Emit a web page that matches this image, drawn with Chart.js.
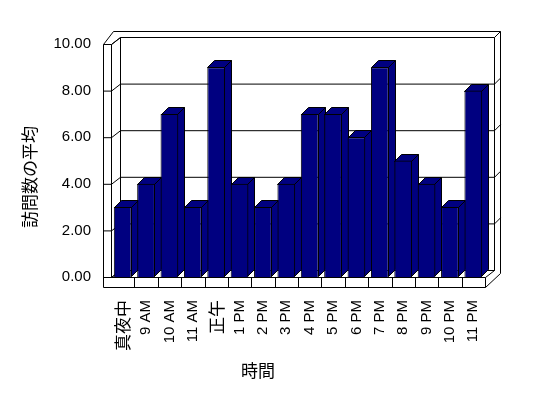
<!DOCTYPE html>
<html>
<head>
<meta charset="utf-8">
<script src="https://cdn.jsdelivr.net/npm/chart.js@4"></script>
<style>
  body { margin: 0; background: #fff; }
</style>
</head>
<body>
<canvas id="visitsChart" width="548" height="398"></canvas>
<script>
// 時間帯別の訪問数 (3D column look)
const categories = ['真夜中', '9 AM', '10 AM', '11 AM', '正午', '1 PM', '2 PM', '3 PM',
    '4 PM', '5 PM', '6 PM', '7 PM', '8 PM', '9 PM', '10 PM', '11 PM'];
const visits = [3, 4, 7, 3, 9, 4, 3, 4, 7, 7, 6, 9, 5, 4, 3, 8];
const yTicks = [0, 2, 4, 6, 8, 10];

const navy = '#000080';
const latin = '"Liberation Sans", Arial, sans-serif';
const cjk = '"Noto Sans CJK JP", sans-serif';

// walls, floor, gridlines and bar tops/sides
const box3d = {
    id: 'box3d',
    beforeDatasetsDraw(chart) {
        const { ctx, chartArea: a, scales: { x, y } } = chart;
        const dx = 9, dy = -7;      // depth of walls
        const wt = 8, ft = 10, bt = 6; // wall / floor / back slab thickness
        const L = a.left, R = a.right;
        const T = y.getPixelForValue(yTicks[yTicks.length - 1]);
        const B = y.getPixelForValue(0);
        const BL = L + dx, BR = R + dx, BT = T + dy, BB = B + dy;
        const line = (pts) => {
            ctx.beginPath();
            pts.forEach((p, i) => i ? ctx.lineTo(p[0], p[1]) : ctx.moveTo(p[0], p[1]));
            ctx.stroke();
        };

        ctx.save();
        ctx.translate(0.5, 0.5);
        ctx.lineWidth = 1;
        ctx.strokeStyle = '#000';
        ctx.fillStyle = '#fff';

        // outer outline
        ctx.beginPath();
        ctx.moveTo(L - wt, B + ft);
        ctx.lineTo(L - wt, T);
        ctx.lineTo(BL - 7, BT - bt);
        ctx.lineTo(BR + bt, BT - bt);
        ctx.lineTo(BR + bt, BB + 3);
        ctx.lineTo(R, B + ft);
        ctx.closePath();
        ctx.fill();
        ctx.stroke();

        // left wall + back wall edges
        line([[L, T], [L, B]]);
        line([[L, T], [BL, BT]]);
        line([[BL, BT], [BL, BB]]);
        line([[BR, BT], [BR, BB]]);
        line([[BR, BT], [BR + bt, BT - bt]]);
        line([[L, B], [BL, BB], [BR, BB], [R, B]]);
        line([[L, B], [R, B]]);
        line([[R, B], [R, B + ft]]);

        // gridlines across left wall and back wall
        yTicks.forEach(v => {
            const yy = y.getPixelForValue(v);
            line([[L - wt, yy], [L, yy], [BL, yy + dy], [BR, yy + dy]]);
            if (v > 0 && v < yTicks[yTicks.length - 1]) line([[BR, yy + dy], [BR + bt, yy + dy - bt]]);
        });

        // category dividers on floor front
        for (let k = 1; k < categories.length; k++) {
            const xx = Math.round((x.getPixelForTick(k - 1) + x.getPixelForTick(k)) / 2);
            line([[xx, B], [xx, B + ft]]);
        }
        ctx.restore();

        // bar tops and sides, drawn before Chart.js paints the fronts
        const bd = 7;
        ctx.save();
        ctx.lineWidth = 1;
        ctx.strokeStyle = '#000';
        ctx.fillStyle = navy;
        chart.getDatasetMeta(0).data.forEach(bar => {
            const l = Math.round(bar.x - bar.width / 2) + 0.5;
            const r = Math.round(bar.x + bar.width / 2) - 0.5;
            const t = Math.round(bar.y) + 0.5;
            const b = Math.round(bar.base) - 0.5;
            ctx.beginPath();
            ctx.moveTo(r, t); ctx.lineTo(r + bd, t - bd); ctx.lineTo(r + bd, b - bd); ctx.lineTo(r, b);
            ctx.closePath(); ctx.fill(); ctx.stroke();
            ctx.beginPath();
            ctx.moveTo(l, t); ctx.lineTo(r, t); ctx.lineTo(r + bd, t - bd); ctx.lineTo(l + bd, t - bd);
            ctx.closePath(); ctx.fill(); ctx.stroke();
        });
        ctx.restore();
    },
    afterDraw(chart) {
        const { ctx } = chart;
        ctx.save();
        ctx.fillStyle = '#000';
        ctx.font = '17px ' + cjk;
        ctx.textAlign = 'center';
        ctx.textBaseline = 'middle';
        ctx.fillText('時間', 258, 371);
        ctx.translate(30, 177);
        ctx.rotate(-Math.PI / 2);
        ctx.fillText('訪問数の平均', 0, 0);
        ctx.restore();
    }
};

new Chart(document.getElementById('visitsChart'), {
    type: 'bar',
    data: {
        labels: categories,
        datasets: [{
            label: '訪問数の平均',
            data: visits,
            backgroundColor: navy,
            borderColor: '#000',
            borderWidth: 1,
            categoryPercentage: 1,
            barPercentage: 0.76
        }]
    },
    options: {
        responsive: false,
        animation: false,
        layout: { padding: { left: 0, top: 44, right: 63, bottom: 0 } },
        plugins: { legend: { display: false }, tooltip: { enabled: false } },
        scales: {
            x: {
                grid: { display: false, drawTicks: false },
                border: { display: false },
                afterFit: (scale) => { scale.height = 121; },
                ticks: {
                    color: '#000',
                    autoSkip: false,
                    minRotation: 90,
                    maxRotation: 90,
                    padding: 23,
                    font: (c) => /[^\x00-\x7f]/.test(categories[c.index] || '')
                        ? { family: cjk, size: 17 }
                        : { family: latin, size: 15 }
                }
            },
            y: {
                min: 0,
                max: 10,
                grid: { display: false, drawTicks: false },
                border: { display: false },
                afterFit: (scale) => { scale.width = 111; },
                afterBuildTicks: (scale) => { scale.ticks = yTicks.map(v => ({ value: v })); },
                ticks: {
                    color: '#000',
                    padding: 20,
                    font: { family: latin, size: 15 },
                    callback: (v) => Number(v).toFixed(2)
                }
            }
        }
    },
    plugins: [box3d]
});
</script>
</body>
</html>
